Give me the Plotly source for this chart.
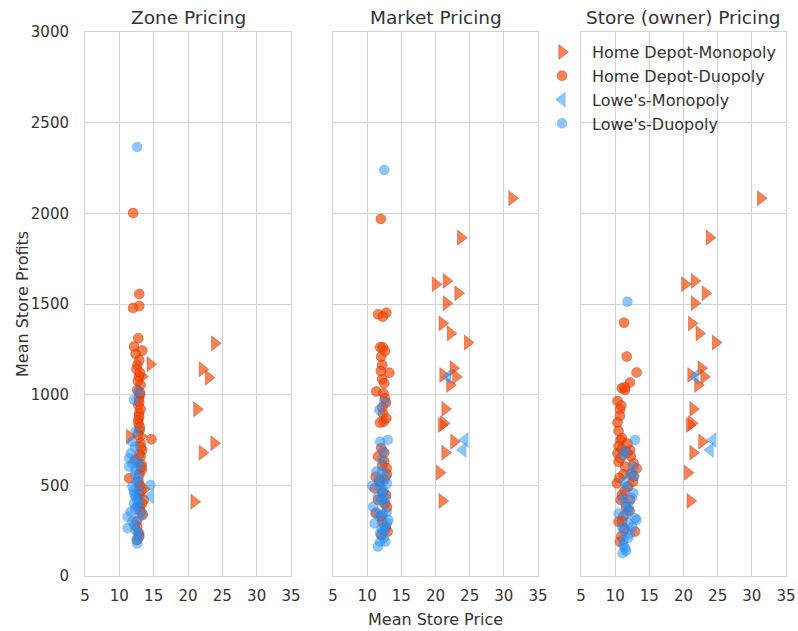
import plotly.graph_objects as go

# ---------------- data ----------------
panel_titles = ["Zone Pricing", "Market Pricing", "Store (owner) Pricing"]
series_names = ["Home Depot-Monopoly", "Home Depot-Duopoly", "Lowe's-Monopoly", "Lowe's-Duopoly"]
x_ticks = [5, 10, 15, 20, 25, 30, 35]
y_ticks = [0, 500, 1000, 1500, 2000, 2500, 3000]

# Zone pricing
zone_hd_mono_price = [23.9, 14.5, 22.1, 23.0, 21.3, 23.8, 22.1, 11.5, 20.9, 13.3, 13.2, 13.6]
zone_hd_mono_profit = [1283, 1168, 1140, 1094, 919, 732, 680, 768, 410, 1100, 770, 480]
zone_hd_duo_price = [12.0, 12.9, 12.9, 12.0, 12.76, 12.14, 13.33, 12.38, 12.62, 12.86, 13.1, 12.6,
                     12.86, 12.76, 12.86, 12.76, 12.95, 14.67, 13.1, 13.33, 13.1, 13.24, 11.43, 13.24,
                     13.57, 13.4, 12.62, 12.86, 12.5, 13.0, 12.9, 12.7, 13.2, 12.3, 12.9, 13.0, 12.5, 12.8,
                     12.9, 13.0, 12.7, 13.0, 12.9, 13.1, 12.8, 13.0, 13.1, 12.9, 13.2, 13.0, 12.9, 13.3,
                     13.1, 12.6, 12.9]
zone_hd_duo_profit = [2002, 1555, 1489, 1478, 1311, 1265, 1243, 1224, 1164, 1099, 1053, 1026,
                      980, 943, 897, 860, 805, 754, 732, 695, 659, 613, 539, 584,
                      420, 337, 199, 236, 1140, 1000, 880, 780, 470, 640, 560, 380, 300, 520,
                      1190, 1120, 1075, 1010, 960, 920, 840, 820, 710, 670, 600, 500, 450, 400,
                      355, 270, 220]
zone_lw_mono_price = [14.5]
zone_lw_mono_profit = [440]
zone_lw_duo_price = [12.6, 12.76, 12.14, 12.38, 11.9, 11.67, 11.43, 12.6, 11.43, 12.38, 14.52, 11.9,
                     12.86, 12.38, 12.14, 12.62, 11.67, 13.33, 11.2, 11.9, 11.2, 12.38, 12.86, 12.6, 12.2, 12.5,
                     12.3, 12.8, 12.1, 12.6, 12.9, 12.3, 12.8, 12.2, 12.7, 12.5, 11.9, 12.9, 12.3]
zone_lw_duo_profit = [2366, 1017, 971, 797, 741, 677, 649, 640, 603, 584, 502, 493,
                      475, 438, 401, 382, 355, 346, 327, 300, 263, 254, 217, 180, 450, 520,
                      560, 540, 470, 420, 410, 370, 320, 280, 240, 200, 620, 610, 710]

# Market pricing
market_hd_mono_price = [31.2, 23.7, 20.0, 21.6, 23.3, 21.6, 21.0, 22.2, 24.7, 22.6, 21.1, 23.0,
                        22.1, 21.4, 21.2, 20.9, 22.7, 21.4, 20.6, 21.0]
market_hd_mono_profit = [2083, 1866, 1609, 1627, 1559, 1504, 1393, 1338, 1287, 1146, 1109, 1099,
                         1053, 921, 842, 833, 741, 680, 570, 414]
market_hd_duo_price = [12.0, 11.6, 12.8, 12.3, 11.9, 12.3, 12.05, 12.2, 13.24, 12.2, 12.5, 11.33,
                       12.4, 12.76, 12.3, 12.4, 11.9, 12.05, 11.57, 12.5, 12.86, 11.24, 12.5, 11.1,
                       12.76, 11.24, 13.0, 12.05, 12.6, 12.2,
                       12.6, 12.0, 12.6, 12.2, 12.8, 12.5, 12.2, 12.9, 11.8, 12.3, 12.9, 12.1, 12.7, 11.6]
market_hd_duo_profit = [1969, 1443, 1452, 1430, 1261, 1261, 1210, 1164, 1121, 1085, 1063, 1017,
                        1008, 956, 897, 851, 846, 705, 659, 631, 594, 548, 530, 484,
                        447, 346, 245, 226, 400, 300,
                        1240, 1130, 980, 930, 870, 680, 610, 560, 520, 460, 380, 330, 270, 420]
market_lw_mono_price = [21.8, 24.3, 24.0]
market_lw_mono_profit = [1099, 750, 695]
market_lw_duo_price = [12.5, 12.5, 11.8, 13.0, 12.3, 11.33, 12.67, 10.76, 11.9, 11.57, 12.38, 10.86,
                       12.86, 11.8, 11.1, 12.5, 11.9, 11.57, 12.67, 13.1, 12.2, 12.0,
                       12.2, 11.7, 12.9, 12.4, 12.1, 12.7, 11.4, 12.3, 12.9, 12.1, 12.4, 11.9, 12.6, 12.2, 11.9]
market_lw_duo_profit = [2239, 961, 916, 750, 686, 576, 548, 497, 493, 438, 401, 382,
                        355, 327, 290, 272, 235, 162, 189, 309, 460, 520,
                        580, 530, 510, 470, 420, 430, 350, 340, 290, 260, 210, 190, 250, 640, 740]

# Store (owner) pricing
store_hd_mono_price = [31.3, 23.8, 20.2, 21.6, 23.2, 21.6, 21.2, 22.3, 24.7, 22.6, 21.1, 23.0,
                       22.1, 21.4, 21.2, 20.9, 22.7, 21.4, 20.6, 21.0]
store_hd_mono_profit = [2083, 1866, 1609, 1627, 1559, 1504, 1393, 1338, 1287, 1146, 1109, 1099,
                        1053, 921, 842, 833, 741, 680, 570, 414]
store_hd_duo_price = [11.3, 11.7, 13.14, 12.17, 10.97, 11.45, 10.34, 10.7, 10.7, 10.34, 10.8, 10.5,
                      12.17, 10.34, 13.14, 11.45, 12.4, 10.24, 11.93, 10.97, 12.17, 10.5, 12.9, 10.7,
                      10.5, 12.66, 11.0, 11.6, 11.2,
                      11.4, 10.9, 10.5, 11.0, 11.8, 12.3, 10.8, 11.2, 10.6, 12.6, 11.4, 10.8, 12.1,
                      11.0, 11.4, 10.9, 12.7, 11.7]
store_hd_duo_profit = [1397, 1210, 1122, 1067, 1035, 1026, 965, 919, 883, 846, 750, 717,
                       695, 676, 593, 603, 566, 511, 493, 447, 419, 299, 245, 189,
                       630, 548, 700, 380, 330,
                       1040, 940, 800, 760, 730, 660, 650, 560, 540, 520, 470, 420, 360,
                       300, 260, 220, 620, 680]
store_lw_mono_price = [21.7, 24.3, 23.9]
store_lw_mono_profit = [1099, 750, 695]
store_lw_duo_price = [11.8, 12.9, 11.2, 12.66, 11.7, 10.5, 11.93, 12.9, 11.0, 12.17, 11.2, 11.45,
                      11.1, 13.14, 12.6, 11.5, 11.9,
                      11.5, 12.2, 11.3, 12.4, 11.1, 12.0, 11.6, 12.5, 11.3, 11.9, 11.2, 11.6, 12.8]
store_lw_duo_profit = [1513, 750, 667, 456, 493, 345, 364, 318, 272, 235, 199, 153,
                       125, 309, 603, 400, 290,
                       690, 560, 520, 430, 430, 380, 340, 270, 250, 210, 170, 140, 550]

panels = [
    [(zone_hd_mono_price, zone_hd_mono_profit), (zone_hd_duo_price, zone_hd_duo_profit),
     (zone_lw_mono_price, zone_lw_mono_profit), (zone_lw_duo_price, zone_lw_duo_profit)],
    [(market_hd_mono_price, market_hd_mono_profit), (market_hd_duo_price, market_hd_duo_profit),
     (market_lw_mono_price, market_lw_mono_profit), (market_lw_duo_price, market_lw_duo_profit)],
    [(store_hd_mono_price, store_hd_mono_profit), (store_hd_duo_price, store_hd_duo_profit),
     (store_lw_mono_price, store_lw_mono_profit), (store_lw_duo_price, store_lw_duo_profit)],
]

# ---------------- style ----------------
ORANGE = "rgba(255,69,0,0.68)"
BLUE = "rgba(30,144,255,0.5)"
styles = [
    dict(symbol="triangle-right", size=13, color=ORANGE, line=dict(color="rgba(110,50,30,0.55)", width=0.6)),
    dict(symbol="circle", size=10, color=ORANGE, line=dict(color="rgba(110,50,30,0.55)", width=0.6)),
    dict(symbol="triangle-left", size=13, color=BLUE, line=dict(color="rgba(60,110,170,0.35)", width=0.6)),
    dict(symbol="circle", size=10, color=BLUE, line=dict(color="rgba(60,110,170,0.35)", width=0.6)),
]

FONT = "DejaVu Sans"
TXT = "#333333"
GRID = "#d3d3d3"

# page body margin is removed in post_script, so figure pixels == page pixels
W, H = 798, 631
L, R, T, B = 85, 12, 32, 55
pw = W - L - R
ph = H - T - B
px_domains = [(85, 291), (333, 538), (581, 786)]
domains = [((a - L) / pw, (b - L) / pw) for a, b in px_domains]

fig = go.Figure()
for pi, panel in enumerate(panels):
    xa = "x" if pi == 0 else f"x{pi+1}"
    ya = "y" if pi == 0 else f"y{pi+1}"
    for si, (xs, ys) in enumerate(panel):
        fig.add_trace(go.Scatter(
            x=xs, y=ys, mode="markers", name=series_names[si],
            marker=styles[si], xaxis=xa, yaxis=ya,
            showlegend=(pi == 2), legendgroup=series_names[si],
        ))

axis_common = dict(
    range=[5, 35], tickvals=x_ticks, showgrid=True, gridcolor=GRID, gridwidth=1,
    showline=True, linecolor=GRID, linewidth=1, mirror=True, zeroline=False, automargin=False,
    ticks="", tickfont=dict(family=FONT, size=15, color=TXT), ticklabelstandoff=6,
)
yaxis_common = dict(
    range=[0, 3000], tickvals=y_ticks, showgrid=True, gridcolor=GRID, gridwidth=1,
    showline=True, linecolor=GRID, linewidth=1, mirror=True, zeroline=False, automargin=False,
    ticks="", tickfont=dict(family=FONT, size=15, color=TXT),
)

layout = dict(
    width=W, height=H,
    margin=dict(l=L, r=R, t=T, b=B, autoexpand=False),
    paper_bgcolor="white", plot_bgcolor="white",
    font=dict(family=FONT, color=TXT),
    legend=dict(
        x=(532 - L) / pw, y=1 - 3 / ph, xanchor="left", yanchor="top",
        bgcolor="rgba(0,0,0,0)", font=dict(family=FONT, size=16, color=TXT),
        tracegroupgap=0, itemwidth=50,
    ),
)
for i in range(3):
    sx = "xaxis" if i == 0 else f"xaxis{i+1}"
    sy = "yaxis" if i == 0 else f"yaxis{i+1}"
    layout[sx] = dict(axis_common, domain=list(domains[i]), anchor="y" if i == 0 else f"y{i+1}")
    yd = dict(yaxis_common, domain=[0, 1], anchor="x" if i == 0 else f"x{i+1}")
    if i == 0:
        yd["ticklabelstandoff"] = 12
    else:
        yd["showticklabels"] = False
        yd["matches"] = "y"
    layout[sy] = yd
fig.update_layout(**layout)

annotations = []
for i, t in enumerate(panel_titles):
    annotations.append(dict(
        text=t, x=(domains[i][0] + domains[i][1]) / 2, y=1, xref="paper", yref="paper",
        xanchor="center", yanchor="bottom", yshift=2, showarrow=False,
        font=dict(family=FONT, size=18.5, color=TXT),
    ))
annotations.append(dict(
    text="Mean Store Price", x=(domains[1][0] + domains[1][1]) / 2, y=(576 - 619) / ph,
    xref="paper", yref="paper", xanchor="center", yanchor="middle", showarrow=False,
    font=dict(family=FONT, size=16, color=TXT),
))
annotations.append(dict(
    text="Mean Store Profits", x=(22 - L) / pw, y=0.5, textangle=-90,
    xref="paper", yref="paper", xanchor="center", yanchor="middle", showarrow=False,
    font=dict(family=FONT, size=16, color=TXT),
))
fig.update_layout(annotations=annotations)

fig.write_html(
    "out.html",
    config={"displayModeBar": False},
    post_script="document.body.style.margin='0';document.body.style.overflow='hidden';"
                "document.documentElement.style.overflow='hidden';",
)
